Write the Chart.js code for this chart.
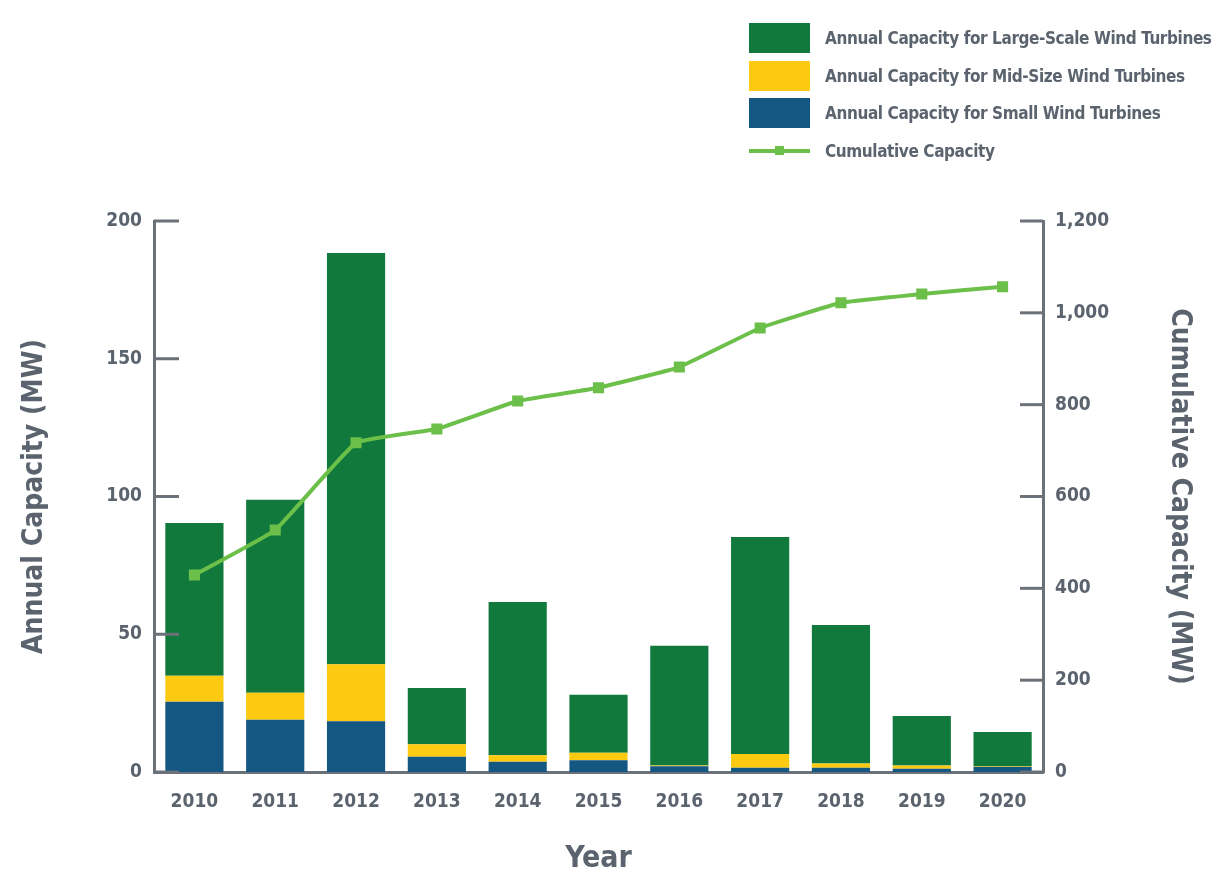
<!DOCTYPE html>
<html>
<head>
<meta charset="utf-8">
<script src="https://cdn.jsdelivr.net/npm/chart.js@4.4.1/dist/chart.umd.min.js"></script>
<style>
    html, body { margin: 0; padding: 0; background: #ffffff; }
    #wrap { position: relative; width: 1216px; height: 881px; }
    #legend { position: absolute; left: 749px; top: 23px; font-family: 'DejaVu Sans Condensed', sans-serif; font-weight: bold; font-size: 17px; letter-spacing: -0.4px; color: #5b646e; white-space: nowrap; }
    .row { display: flex; align-items: center; height: 30px; margin-bottom: 7.5px; }
    .swatch { flex: none; width: 61px; height: 30px; margin-right: 15px; }
    .lineSwatch { flex: none; width: 61px; height: 4px; margin-right: 15px; position: relative; }
    .lineSwatch span { position: absolute; left: 26px; top: -3px; width: 9px; height: 9px; }
</style>
</head>
<body>
<div id="wrap">
    <canvas id="windChart" width="1216" height="881"></canvas>
    <div id="legend"></div>
</div>
<script>
    const years = ['2010', '2011', '2012', '2013', '2014', '2015', '2016', '2017', '2018', '2019', '2020'];
    const smallTurbines = [25.5, 19.0, 18.4, 5.5, 3.7, 4.3, 2.1, 1.5, 1.5, 1.2, 1.8];
    const midTurbines = [9.4, 9.8, 20.7, 4.6, 2.4, 2.7, 0.3, 5.0, 1.6, 1.2, 0.2];
    const largeTurbines = [55.5, 70.0, 149.3, 20.4, 55.6, 21.0, 43.4, 78.8, 50.3, 17.9, 12.5];
    const cumulative = [429, 527, 717, 747, 808, 837, 882, 967, 1022, 1041, 1057];

    const fontFamily = "'DejaVu Sans Condensed', sans-serif";
    const textColor = '#5b646e';
    const axisColor = '#6b7178';

    // short tick marks that point into the plot
    const innerTicks = {
        id: 'innerTicks',
        afterDraw(chart) {
            const ctx = chart.ctx;
            const area = chart.chartArea;
            ctx.save();
            ctx.strokeStyle = axisColor;
            ctx.lineWidth = 3;
            chart.scales.y.ticks.forEach(function (t) {
                const y = chart.scales.y.getPixelForValue(t.value);
                ctx.beginPath();
                ctx.moveTo(area.left, y);
                ctx.lineTo(area.left + 25, y);
                ctx.stroke();
            });
            chart.scales.y1.ticks.forEach(function (t) {
                const y = chart.scales.y1.getPixelForValue(t.value);
                ctx.beginPath();
                ctx.moveTo(area.right - 23, y);
                ctx.lineTo(area.right, y);
                ctx.stroke();
            });
            ctx.restore();
        }
    };

    const large = {
        type: 'bar',
        label: 'Annual Capacity for Large-Scale Wind Turbines',
        data: largeTurbines,
        backgroundColor: '#11793b',
        stack: 'annual',
        order: 1
    };

    const mid = {
        type: 'bar',
        label: 'Annual Capacity for Mid-Size Wind Turbines',
        data: midTurbines,
        backgroundColor: '#fcca10',
        stack: 'annual',
        order: 1
    };

    const small = {
        type: 'bar',
        label: 'Annual Capacity for Small Wind Turbines',
        data: smallTurbines,
        backgroundColor: '#145783',
        stack: 'annual',
        order: 1
    };

    const cumul = {
        type: 'line',
        label: 'Cumulative Capacity',
        data: cumulative,
        yAxisID: 'y1',
        borderColor: '#6cc04a',
        backgroundColor: '#6cc04a',
        borderWidth: 4,
        pointStyle: 'rect',
        pointRadius: 5,
        tension: 0.1,
        order: 0
    };

    const chart = new Chart('windChart', {
        data: {
            labels: years,
            datasets: [small, mid, large, cumul]
        },
        options: {
            responsive: false,
            animation: false,
            devicePixelRatio: 1,
            layout: { padding: { top: 221, left: 14, right: 16, bottom: 0 } },
            datasets: {
                bar: { barPercentage: 0.72, categoryPercentage: 1 }
            },
            plugins: {
                legend: { display: false },
                tooltip: { enabled: false }
            },
            scales: {
                x: {
                    stacked: true,
                    grid: { display: false, drawTicks: false },
                    border: { display: true, color: axisColor, width: 3 },
                    ticks: { color: textColor, padding: 19, font: { family: fontFamily, weight: 'bold', size: 19 } },
                    title: { display: true, text: 'Year', color: textColor, font: { family: fontFamily, weight: 'bold', size: 30 } },
                    afterFit: function (scale) { scale.height = 881 - 772; }
                },
                y: {
                    stacked: true,
                    position: 'left',
                    min: 0,
                    max: 200,
                    grid: { display: false, drawTicks: false },
                    border: { display: true, color: axisColor, width: 3 },
                    ticks: { stepSize: 50, color: textColor, padding: 12, font: { family: fontFamily, weight: 'bold', size: 19 } },
                    title: { display: true, text: 'Annual Capacity (MW)', color: textColor, font: { family: fontFamily, weight: 'bold', size: 28 } },
                    afterFit: function (scale) { scale.width = 154 - 14; }
                },
                y1: {
                    position: 'right',
                    min: 0,
                    max: 1200,
                    grid: { display: false, drawTicks: false },
                    border: { display: true, color: axisColor, width: 3 },
                    ticks: { stepSize: 200, color: textColor, padding: 12, font: { family: fontFamily, weight: 'bold', size: 19 } },
                    title: { display: true, text: 'Cumulative Capacity (MW)', color: textColor, font: { family: fontFamily, weight: 'bold', size: 28 } },
                    afterFit: function (scale) { scale.width = 1216 - 1043 - 16; }
                }
            }
        },
        plugins: [innerTicks]
    });

    // legend listed top to bottom: large, mid, small, cumulative
    const legendOrder = [2, 1, 0, 3];
    const legendBox = document.getElementById('legend');
    legendOrder.forEach(function (i) {
        const ds = chart.data.datasets[i];
        const row = document.createElement('div');
        row.className = 'row';
        const mark = document.createElement('div');
        if (ds.type === 'line') {
            mark.className = 'lineSwatch';
            mark.style.background = ds.borderColor;
            const dot = document.createElement('span');
            dot.style.background = ds.borderColor;
            mark.appendChild(dot);
        } else {
            mark.className = 'swatch';
            mark.style.background = ds.backgroundColor;
        }
        const label = document.createElement('div');
        label.textContent = ds.label;
        row.appendChild(mark);
        row.appendChild(label);
        legendBox.appendChild(row);
    });
</script>
</body>
</html>
